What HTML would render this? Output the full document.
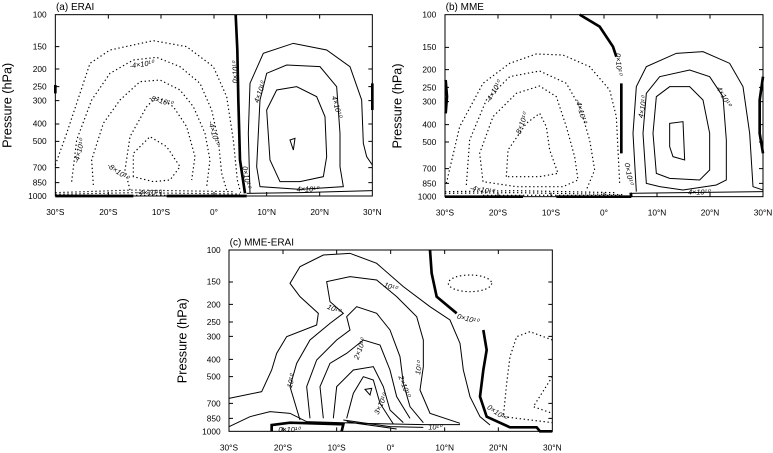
<!DOCTYPE html>
<html><head><meta charset="utf-8"><style>
html,body{margin:0;padding:0;background:#fff;}
svg{display:block;font-family:"Liberation Sans",sans-serif;}
</style></head><body>
<svg width="773" height="453" viewBox="0 0 773 453" xmlns="http://www.w3.org/2000/svg">
<defs>
<g id="yax">
</g>
</defs>

<!-- Panel A -->
<g transform="scale(0.33333)" fill="none" stroke="#000">
<text x="168" y="30" font-size="30" fill="#000" stroke="none">(a) ERAI</text>
<g font-size="25" fill="#000" stroke="none" text-anchor="end">
<text x="140" y="53">100</text><text x="140" y="148">150</text><text x="140" y="216">200</text><text x="140" y="269">250</text><text x="140" y="311">300</text><text x="140" y="380">400</text><text x="140" y="432">500</text><text x="140" y="512">700</text><text x="140" y="557">850</text><text x="140" y="597">1000</text>
</g>
<text transform="translate(35,316) rotate(-90)" font-size="38" fill="#000" stroke="none" text-anchor="middle">Pressure (hPa)</text>
<g font-size="25" fill="#000" stroke="none" text-anchor="middle">
<text x="166" y="645">30°S</text><text x="325" y="645">20°S</text><text x="483" y="645">10°S</text><text x="642" y="645">0°</text><text x="800" y="645">10°N</text><text x="959" y="645">20°N</text><text x="1117" y="645">30°N</text>
</g>
<g stroke-width="3">
<path d="M166,140h12M166,207h12M166,260h12M166,302h12M166,372h12M166,424h12M166,503h12M166,548h12M1117,140h-12M1117,207h-12M1117,260h-12M1117,302h-12M1117,372h-12M1117,424h-12M1117,503h-12M1117,548h-12"/>
<path d="M325,588v-12M483,588v-12M642,588v-12M800,588v-12M959,588v-12M325,44v12M483,44v12M642,44v12M800,44v12M959,44v12"/>
</g>
<g stroke-width="3.5" stroke-dasharray="4,8">
<path d="M166,495 L200,400 L270,190 L330,150 L460,122 L560,140 L640,200 L680,290 L700,420 L712,540 L722,578"/>
<path d="M215,545 L230,420 L275,300 L330,220 L400,180 L470,172 L540,200 L600,250 L635,330 L655,420 L665,520 L680,570"/>
<path d="M280,555 L275,480 L310,370 L360,300 L420,245 L480,240 L540,270 L580,320 L615,400 L630,480 L620,560"/>
<path d="M390,570 L375,510 L390,410 L440,320 L470,290 L520,320 L560,380 L585,470 L575,540"/>
<path d="M400,530 L400,460 L450,410 L500,440 L540,500 L510,540 L460,545 Z"/>
<path d="M166,578 L400,570 L700,575M166,583 L400,578 L720,582M300,586 L720,586"/>
</g>
<g stroke-width="3">
<path d="M750,580 L745,400 L750,250 L790,160 L880,130 L980,150 L1050,200 L1085,300 L1090,430 L1100,470 L1117,495"/>
<path d="M780,300 L800,220 L860,195 L960,200 L1010,260 L1020,400 L1020,500 L1030,560 L900,568 L780,560 L770,500 Z"/>
<path d="M800,330 L830,270 L890,260 L950,290 L975,350 L980,470 L970,530 L900,545 L840,545 L810,480 Z"/>
<path d="M870,420 L885,415 L880,450 Z"/>
<path d="M740,580 L900,578 L1117,572"/>
</g>
<g stroke-width="8">
<path d="M707,44 L712,150 L715,300 L720,480 L735,580"/>
<path d="M166,588 L400,588 M500,588 L740,588"/>
<path d="M1117,250 L1117,330 M166,255 L166,280"/>
</g>
<g font-size="22" fill="#000" stroke="none" font-style="italic">
<text x="390" y="205" transform="rotate(-8 390 205)">-4×10¹⁰</text>
<text x="445" y="300" transform="rotate(15 445 300)">-8×10¹⁰</text>
<text x="625" y="365" transform="rotate(75 625 365)">-4×10¹⁰</text>
<text x="235" y="490" transform="rotate(-75 235 490)">-4×10¹⁰</text>
<text x="320" y="500" transform="rotate(35 320 500)">-8×10¹⁰</text>
<text x="410" y="585">-4×10¹⁰</text>
<text x="712" y="250" transform="rotate(-90 712 250)">0×10¹⁰</text>
<text x="727" y="500" transform="rotate(80 727 500)">0×10¹⁰</text>
<text x="775" y="310" transform="rotate(-70 775 310)">4×10¹⁰</text>
<text x="995" y="290" transform="rotate(75 995 290)">4×10¹⁰</text>
<text x="890" y="575">4×10¹⁰</text>
</g>
<rect x="166" y="44" width="951" height="544" stroke-width="3"/>
</g>

<!-- Panel B -->
<g transform="translate(383,0) scale(0.33333)" fill="none" stroke="#000">
<text x="188" y="30" font-size="30" fill="#000" stroke="none">(b) MME</text>
<g font-size="25" fill="#000" stroke="none" text-anchor="end">
<text x="160" y="53">100</text><text x="160" y="150">150</text><text x="160" y="218">200</text><text x="160" y="271">250</text><text x="160" y="313">300</text><text x="160" y="383">400</text><text x="160" y="435">500</text><text x="160" y="515">700</text><text x="160" y="560">850</text><text x="160" y="599">1000</text>
</g>
<text transform="translate(55,318) rotate(-90)" font-size="38" fill="#000" stroke="none" text-anchor="middle">Pressure (hPa)</text>
<g font-size="25" fill="#000" stroke="none" text-anchor="middle">
<text x="186" y="647">30°S</text><text x="345" y="647">20°S</text><text x="504" y="647">10°S</text><text x="663" y="647">0°</text><text x="822" y="647">10°N</text><text x="981" y="647">20°N</text><text x="1140" y="647">30°N</text>
</g>
<g stroke-width="3">
<path d="M186,142h12M186,209h12M186,262h12M186,305h12M186,374h12M186,426h12M186,506h12M186,550h12M1140,142h-12M1140,209h-12M1140,262h-12M1140,305h-12M1140,374h-12M1140,426h-12M1140,506h-12M1140,550h-12"/>
<path d="M345,590v-12M504,590v-12M663,590v-12M822,590v-12M981,590v-12M345,44v12M504,44v12M663,44v12M822,44v12M981,44v12"/>
</g>
<g stroke-width="3.5" stroke-dasharray="4,8">
<path d="M190,550 L230,380 L300,250 L380,190 L460,162 L540,165 L620,200 L680,270 L700,350 L705,450 L710,550"/>
<path d="M250,555 L260,420 L310,300 L380,230 L470,213 L550,250 L590,320 L620,420 L635,510 L610,570"/>
<path d="M300,545 L290,460 L330,350 L400,280 L470,258 L520,290 L550,380 L575,470 L585,540 L540,560 L400,560 Z"/>
<path d="M370,530 L375,450 L430,370 L470,340 L490,380 L500,450 L525,520 L470,530 Z"/>
<path d="M186,575 L400,572 L700,578M186,580 L400,578 L720,584M300,586 L720,586"/>
</g>
<g stroke-width="3">
<path d="M760,575 L750,400 L760,260 L790,200 L880,160 L960,155 L1040,190 L1080,260 L1100,400 L1110,560 L1140,570"/>
<path d="M790,550 L780,400 L790,280 L830,230 L920,210 L980,230 L1020,290 L1030,420 L1030,540 L1000,555 L900,570 L830,560 Z"/>
<path d="M820,520 L810,400 L820,290 L860,260 L920,260 L960,300 L980,400 L980,510 L950,540 L860,535 Z"/>
<path d="M860,370 L900,365 L905,480 L870,470 L860,440 Z"/>
<path d="M745,580 L1140,575"/>
</g>
<g stroke-width="8">
<path d="M590,44 L650,80 L690,140 L700,170"/>
<path d="M715,250 L715,460 M743,578 L745,590"/>
<path d="M186,590 L420,590 M520,590 L745,590"/>
<path d="M188,240 L192,290 L188,340 M1140,230 L1130,300 L1130,400 L1140,460"/>
</g>
<g font-size="22" fill="#000" stroke="none" font-style="italic">
<text x="320" y="310" transform="rotate(-60 320 310)">-4×10¹⁰</text>
<text x="410" y="410" transform="rotate(-70 410 410)">-8×10¹⁰</text>
<text x="578" y="300" transform="rotate(75 578 300)">-4×10¹⁰</text>
<text x="260" y="570" transform="rotate(10 260 570)">-4×10¹⁰</text>
<text x="697" y="160" transform="rotate(85 697 160)">0×10¹⁰</text>
<text x="725" y="490" transform="rotate(80 725 490)">0×10¹⁰</text>
<text x="780" y="355" transform="rotate(-80 780 355)">4×10¹⁰</text>
<text x="1000" y="265" transform="rotate(60 1000 265)">4×10¹⁰</text>
<text x="915" y="583">4×10¹⁰</text>
</g>
<rect x="186" y="44" width="954" height="546" stroke-width="3"/>
</g>

<!-- Panel C -->
<g transform="translate(190,230) scale(0.33333)" fill="none" stroke="#000">
<text x="119" y="46" font-size="30" fill="#000" stroke="none">(c) MME-ERAI</text>
<g font-size="25" fill="#000" stroke="none" text-anchor="end">
<text x="92" y="69">100</text><text x="92" y="164">150</text><text x="92" y="232">200</text><text x="92" y="285">250</text><text x="92" y="328">300</text><text x="92" y="397">400</text><text x="92" y="449">500</text><text x="92" y="529">700</text><text x="92" y="574">850</text><text x="92" y="613">1000</text>
</g>
<text transform="translate(-10,332) rotate(-90)" font-size="38" fill="#000" stroke="none" text-anchor="middle">Pressure (hPa)</text>
<g font-size="25" fill="#000" stroke="none" text-anchor="middle">
<text x="117" y="661">30°S</text><text x="279" y="661">20°S</text><text x="440" y="661">10°S</text><text x="602" y="661">0°</text><text x="764" y="661">10°N</text><text x="925" y="661">20°N</text><text x="1087" y="661">30°N</text>
</g>
<g stroke-width="3">
<path d="M117,156h12M117,223h12M117,276h12M117,319h12M117,388h12M117,440h12M117,520h12M117,565h12M1087,156h-12M1087,223h-12M1087,276h-12M1087,319h-12M1087,388h-12M1087,440h-12M1087,520h-12M1087,565h-12"/>
<path d="M279,604v-12M440,604v-12M602,604v-12M764,604v-12M925,604v-12M279,60v12M440,60v12M602,60v12M764,60v12M925,60v12"/>
</g>
<g stroke-width="3">
<path d="M117,505 L215,485 L245,420 L260,370 L290,320 L380,285 L385,250 L330,200 L300,160 L330,110 L400,75 L480,70 L560,100 L640,170 L720,230 L780,270 L810,340 L820,420 L840,500 L870,560 L900,585"/>
<path d="M117,590 L180,560 L240,545 L300,550 L350,575 L520,580 L700,584 L810,584"/>
<path d="M330,570 L300,470 L320,400 L360,330 L420,280 L460,250 L420,215 L410,155 L480,140 L560,150 L620,200 L680,260 L700,330 L700,410 L690,480 L720,550 L810,580"/>
<path d="M360,565 L350,470 L380,390 L440,330 L480,300 L470,260 L500,230 L560,250 L600,300 L630,380 L640,460 L660,530 L700,578"/>
<path d="M400,565 L390,470 L420,400 L470,370 L520,330 L570,345 L600,420 L620,500 L660,565"/>
<path d="M430,565 L440,470 L490,420 L550,410 L580,470 L600,540 L640,578"/>
<path d="M470,565 L490,490 L520,440 L550,450 L570,520 L610,582"/>
<path d="M525,478 L545,475 L540,495 Z"/>
<path d="M460,570 L600,590 L700,592 M470,575 L600,594 M500,580 L620,597"/>
</g>
<g stroke-width="8">
<path d="M720,60 L725,130 L740,200 L800,250"/>
<path d="M880,300 L890,360 L880,420 L870,500 L890,560 L960,592 L1040,592 L1050,604 L1087,604"/>
<path d="M245,604 L245,585 L300,578 L460,583 L455,604"/>
</g>
<g stroke-width="3.5" stroke-dasharray="4,8">
<ellipse cx="840" cy="160" rx="65" ry="25"/>
<path d="M1087,330 L1020,305 L980,320 L960,380 L950,460 L940,560 L1087,578"/>
<path d="M1087,440 L1030,530 L1087,550"/>
</g>
<g font-size="22" fill="#000" stroke="none" font-style="italic">
<text x="580" y="170" transform="rotate(20 580 170)">10¹⁰</text>
<text x="410" y="235" transform="rotate(25 410 235)">10¹⁰</text>
<text x="800" y="265" transform="rotate(15 800 265)">0×10¹⁰</text>
<text x="505" y="390" transform="rotate(-70 505 390)">2×10¹⁰</text>
<text x="690" y="435" transform="rotate(-80 690 435)">10¹⁰</text>
<text x="625" y="440" transform="rotate(70 625 440)">2×10¹⁰</text>
<text x="305" y="475" transform="rotate(-75 305 475)">10¹⁰</text>
<text x="565" y="555" transform="rotate(-65 565 555)">3×10¹⁰</text>
<text x="890" y="535" transform="rotate(35 890 535)">0×10¹⁰</text>
<text x="715" y="598">10¹⁰</text>
<text x="265" y="606">0×10¹⁰</text>
</g>
<rect x="117" y="60" width="970" height="544" stroke-width="3"/>
</g>
</svg>
</body></html>
